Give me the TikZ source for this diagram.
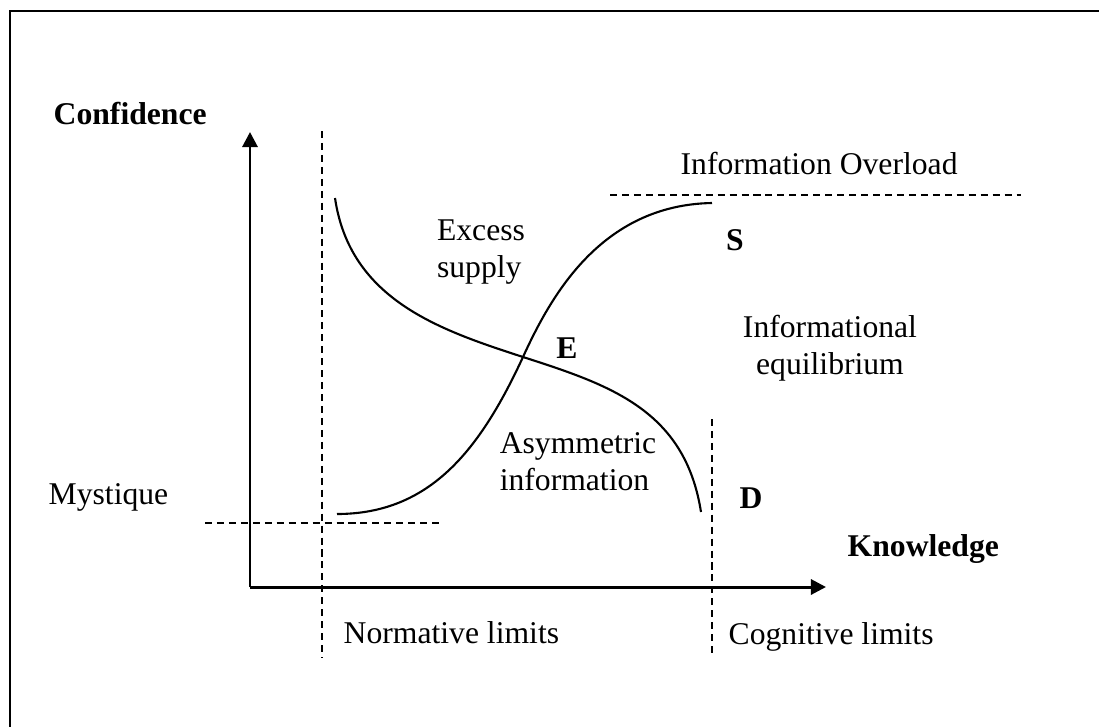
\documentclass[tikz,border=0pt]{standalone}
\usepackage{fontspec}
\setmainfont{Liberation Serif}
\usetikzlibrary{arrows.meta}
\begin{document}
\begin{tikzpicture}[x=0.01cm,y=-0.01cm,>={Triangle[length=4.3pt,width=4.3pt]},
    font=\fontsize{9pt}{10.5pt}\selectfont,
    limit/.style={dash pattern=on 2pt off 1.4pt,line width=0.45pt},
    curve/.style={line width=0.6pt},
    txt/.style={inner sep=0pt,align=center},
    bold/.style={inner sep=0pt,font=\fontsize{9pt}{10.5pt}\selectfont\bfseries}]
\useasboundingbox (0,0) rectangle (1099,727);
\draw[line width=0.7pt](10,727)--(10,11)--(1099,11);
% axes
\coordinate (O) at (250,587);
\coordinate (ytip) at (250,132);
\coordinate (xtip) at (826,587);
\draw[->,line width=0.85pt](O)--(ytip);
\draw[->,line width=0.85pt](O)--(xtip);
\node[bold,anchor=base west] (conf) at (53,124) {Confidence};
\node[bold,anchor=base west] (know) at (847,556) {Knowledge};
% limits
\coordinate (n1) at (322,131); \coordinate (n2) at (322,658);
\coordinate (c1) at (712,419); \coordinate (c2) at (712,656);
\coordinate (m1) at (205,523); \coordinate (m2) at (442,523);
\coordinate (o1) at (610,195); \coordinate (o2) at (1021,195);
\draw[limit](n1)--(n2);
\draw[limit](c1)--(c2);
\draw[limit](m1)--(m2);
\draw[limit](o1)--(o2);
\node[txt,anchor=base west] (norm) at (343,643) {Normative limits};
\node[txt,anchor=base west] (cogn) at (728,644) {Cognitive limits};
\node[txt,anchor=base west] (myst) at (48,504) {Mystique};
\node[txt,anchor=base west] (over) at (680,174) {Information Overload};
% curves
\coordinate (eq) at (523,357);
\draw[curve](335,198) .. controls (350,300) and (440,330) .. (eq)
    .. controls (610,385) and (685,410) .. (701,512);
\draw[curve](337,514) .. controls (430,514) and (480,450) .. (eq)
    .. controls (550,298) and (600,205) .. (712,203);
\node[bold,anchor=base] (E) at (567,358) {E};
\node[bold,anchor=base] (S) at (735,250) {S};
\node[bold,anchor=base] (D) at (751,508) {D};
\node[txt,align=left] (exc) at (481,252) {Excess\\supply};
\node[txt,align=left] (asym) at (578,462) {Asymmetric\\information};
\node[txt] (equi) at (830,348) {Informational\\equilibrium};
\end{tikzpicture}
\end{document}
